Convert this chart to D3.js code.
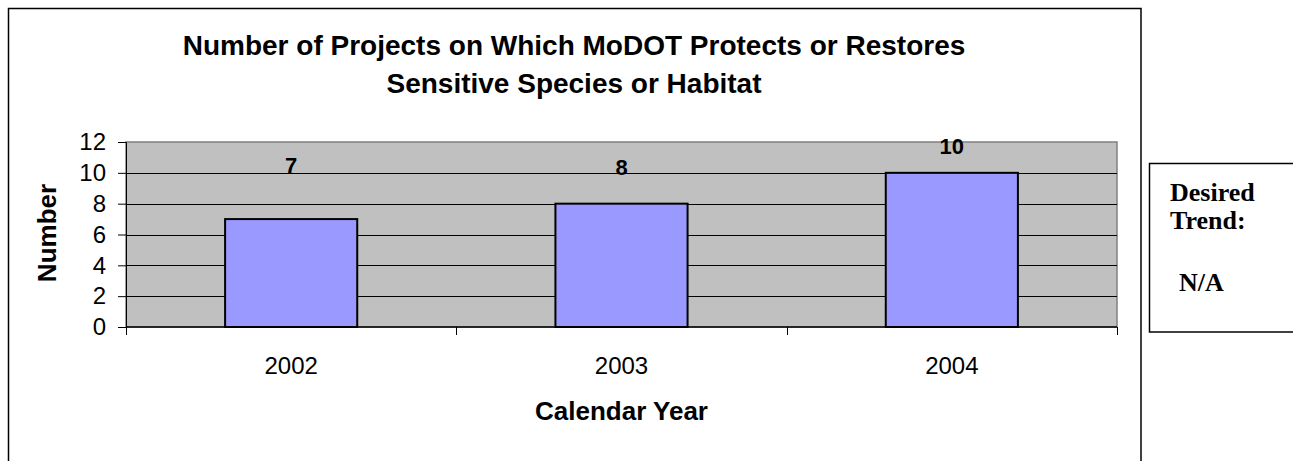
<!DOCTYPE html>
<html>
<head>
<meta charset="utf-8">
<script src="https://cdn.jsdelivr.net/npm/d3@7"></script>
<style>
  html, body { margin: 0; padding: 0; background: #ffffff; }
  svg { display: block; }
</style>
</head>
<body>
<svg id="chart" width="1293" height="461"></svg>
<script>
// ---- data ----
const categories = ["2002", "2003", "2004"];
const values = [7, 8, 10];
const yTicks = [0, 2, 4, 6, 8, 10, 12];
const titleLines = ["Number of Projects on Which MoDOT Protects or Restores", "Sensitive Species or Habitat"];
const yAxisTitle = "Number";
const xAxisTitle = "Calendar Year";
const trendLines = ["Desired", "Trend:", "N/A"];
// where Excel put each data label (in data units)
const labelAnchors = [10, 9.85, 11.2];

// ---- layout ----
const svg = d3.select("#chart");
const plot = { left: 126, right: 1117, top: 142, bottom: 327 };

const x = d3.scaleBand().domain(categories).range([plot.left, plot.right]).paddingInner(0).paddingOuter(0);
const y = d3.scaleLinear().domain([0, 12]).range([plot.bottom, plot.top]);

// outer chart border
svg.append("rect")
  .attr("x", 8.5).attr("y", 8.5)
  .attr("width", 1141 - 8.5).attr("height", 480)
  .attr("fill", "#fff").attr("stroke", "#000").attr("stroke-width", 1.5);

// title
svg.append("g").selectAll("text").data(titleLines).join("text")
  .attr("x", 574)
  .attr("y", (d, i) => 55 + i * 38)
  .attr("text-anchor", "middle")
  .attr("font-family", "Liberation Sans, Arial, sans-serif")
  .attr("font-weight", "bold")
  .attr("font-size", 28)
  .attr("fill", "#000")
  .text(d => d);

// plot area background
svg.append("rect")
  .attr("x", plot.left).attr("y", plot.top)
  .attr("width", plot.right - plot.left).attr("height", plot.bottom - plot.top)
  .attr("fill", "#c0c0c0").attr("stroke", "#808080").attr("stroke-width", 1.5);

// gridlines
svg.append("g").selectAll("line").data(yTicks.filter(t => t > 0 && t < 12)).join("line")
  .attr("x1", plot.left).attr("x2", plot.right)
  .attr("y1", d => Math.round(y(d)) + 0.5).attr("y2", d => Math.round(y(d)) + 0.5)
  .attr("stroke", "#000").attr("stroke-width", 1);

// bars
const barW = x.bandwidth() * 0.4;
svg.append("g").selectAll("rect").data(values).join("rect")
  .attr("x", (d, i) => x(categories[i]) + (x.bandwidth() - barW) / 2)
  .attr("y", d => y(d))
  .attr("width", barW)
  .attr("height", d => y(0) - y(d))
  .attr("fill", "#9999ff")
  .attr("stroke", "#000")
  .attr("stroke-width", 2);

// y axis
const yAxis = d3.axisLeft(y).tickValues(yTicks).tickSize(8).tickPadding(12).tickFormat(d3.format("d"));
const gy = svg.append("g").attr("transform", `translate(${plot.left},0)`).call(yAxis);
gy.select(".domain").attr("stroke", "#000").attr("stroke-width", 1);
gy.selectAll(".tick line").attr("stroke", "#000");
gy.selectAll(".tick text")
  .attr("font-family", "Liberation Sans, Arial, sans-serif")
  .attr("font-size", 24)
  .attr("fill", "#000");

// x axis (ticks at category boundaries)
const boundaries = categories.map(c => x(c)).concat([plot.right]);
const gx = svg.append("g");
gx.append("line")
  .attr("x1", plot.left).attr("x2", plot.right)
  .attr("y1", plot.bottom).attr("y2", plot.bottom)
  .attr("stroke", "#000").attr("stroke-width", 1.5);
gx.selectAll("line.tk").data(boundaries).join("line").attr("class", "tk")
  .attr("x1", d => Math.round(d) + 0.5).attr("x2", d => Math.round(d) + 0.5)
  .attr("y1", plot.bottom).attr("y2", plot.bottom + 8)
  .attr("stroke", "#000").attr("stroke-width", 1);
gx.selectAll("text").data(categories).join("text")
  .attr("x", d => x(d) + x.bandwidth() / 2)
  .attr("y", 374)
  .attr("text-anchor", "middle")
  .attr("font-family", "Liberation Sans, Arial, sans-serif")
  .attr("font-size", 24)
  .attr("fill", "#000")
  .text(d => d);

// data labels
svg.append("g").selectAll("text").data(values).join("text")
  .attr("x", (d, i) => x(categories[i]) + x.bandwidth() / 2)
  .attr("y", (d, i) => y(labelAnchors[i]))
  .attr("text-anchor", "middle")
  .attr("font-family", "Liberation Sans, Arial, sans-serif")
  .attr("font-weight", "bold")
  .attr("font-size", 22)
  .attr("fill", "#000")
  .text(d => d);

// axis titles
svg.append("text")
  .attr("transform", "translate(56,233) rotate(-90)")
  .attr("text-anchor", "middle")
  .attr("font-family", "Liberation Sans, Arial, sans-serif")
  .attr("font-weight", "bold")
  .attr("font-size", 26)
  .attr("fill", "#000")
  .text(yAxisTitle);

svg.append("text")
  .attr("x", (plot.left + plot.right) / 2)
  .attr("y", 420)
  .attr("text-anchor", "middle")
  .attr("font-family", "Liberation Sans, Arial, sans-serif")
  .attr("font-weight", "bold")
  .attr("font-size", 26)
  .attr("fill", "#000")
  .text(xAxisTitle);

// desired trend box
svg.append("rect")
  .attr("x", 1149.5).attr("y", 163.5)
  .attr("width", 200).attr("height", 332 - 163.5)
  .attr("fill", "#fff").attr("stroke", "#000").attr("stroke-width", 1.5);
svg.append("g").selectAll("text").data(trendLines).join("text")
  .attr("x", (d, i) => i === 2 ? 1179 : 1170)
  .attr("y", (d, i) => [201, 229, 291][i])
  .attr("font-family", "Liberation Serif, 'Times New Roman', serif")
  .attr("font-weight", "bold")
  .attr("font-size", 26)
  .attr("fill", "#000")
  .text(d => d);
</script>
</body>
</html>
